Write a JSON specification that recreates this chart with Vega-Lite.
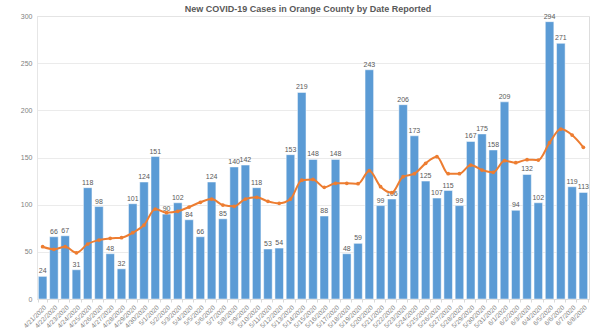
{
  "$schema": "https://vega.github.io/schema/vega-lite/v6.json",
  "width": 552,
  "height": 283,
  "autosize": {"type": "none"},
  "padding": {"left": 37, "top": 16, "right": 11, "bottom": 32},
  "background": "white",
  "title": {
    "text": "New COVID-19 Cases in Orange County by Date Reported",
    "anchor": "middle",
    "frame": "group",
    "dx": -5,
    "dy": 7,
    "offset": 5,
    "fontSize": 9,
    "fontWeight": "bold",
    "font": "Liberation Sans",
    "color": "#595959"
  },
  "data": {"values": [
    {"date": "4/21/2020", "cases": 24, "avg": 55.4},
    {"date": "4/22/2020", "cases": 66, "avg": 52.7},
    {"date": "4/23/2020", "cases": 67, "avg": 55.4},
    {"date": "4/24/2020", "cases": 31, "avg": 49},
    {"date": "4/25/2020", "cases": 118, "avg": 58.3},
    {"date": "4/26/2020", "cases": 98, "avg": 62.5},
    {"date": "4/27/2020", "cases": 48, "avg": 64.3},
    {"date": "4/28/2020", "cases": 32, "avg": 65},
    {"date": "4/29/2020", "cases": 101, "avg": 70.3},
    {"date": "4/30/2020", "cases": 124, "avg": 78.4},
    {"date": "5/1/2020", "cases": 151, "avg": 95.4},
    {"date": "5/2/2020", "cases": 90, "avg": 91.5},
    {"date": "5/3/2020", "cases": 102, "avg": 93},
    {"date": "5/4/2020", "cases": 84, "avg": 97.5},
    {"date": "5/5/2020", "cases": 66, "avg": 102.5},
    {"date": "5/6/2020", "cases": 124, "avg": 106},
    {"date": "5/7/2020", "cases": 85, "avg": 99.6},
    {"date": "5/8/2020", "cases": 140, "avg": 98.2},
    {"date": "5/9/2020", "cases": 142, "avg": 106},
    {"date": "5/10/2020", "cases": 118, "avg": 107.8},
    {"date": "5/11/2020", "cases": 53, "avg": 103.5},
    {"date": "5/12/2020", "cases": 54, "avg": 101.4},
    {"date": "5/13/2020", "cases": 153, "avg": 106},
    {"date": "5/14/2020", "cases": 219, "avg": 126},
    {"date": "5/15/2020", "cases": 148, "avg": 126.8},
    {"date": "5/16/2020", "cases": 88, "avg": 118.4},
    {"date": "5/17/2020", "cases": 148, "avg": 122.6},
    {"date": "5/18/2020", "cases": 48, "avg": 122.6},
    {"date": "5/19/2020", "cases": 59, "avg": 122.2},
    {"date": "5/20/2020", "cases": 243, "avg": 136},
    {"date": "5/21/2020", "cases": 99, "avg": 119},
    {"date": "5/22/2020", "cases": 106, "avg": 112.7},
    {"date": "5/23/2020", "cases": 206, "avg": 129.7},
    {"date": "5/24/2020", "cases": 173, "avg": 132.8},
    {"date": "5/25/2020", "cases": 125, "avg": 143.8},
    {"date": "5/26/2020", "cases": 107, "avg": 150.8},
    {"date": "5/27/2020", "cases": 115, "avg": 132.8},
    {"date": "5/28/2020", "cases": 99, "avg": 132.8},
    {"date": "5/29/2020", "cases": 167, "avg": 142},
    {"date": "5/30/2020", "cases": 175, "avg": 136.7},
    {"date": "5/31/2020", "cases": 158, "avg": 134.3},
    {"date": "6/1/2020", "cases": 209, "avg": 146.6},
    {"date": "6/2/2020", "cases": 94, "avg": 144.5},
    {"date": "6/3/2020", "cases": 132, "avg": 147.7},
    {"date": "6/4/2020", "cases": 102, "avg": 147.3},
    {"date": "6/5/2020", "cases": 294, "avg": 165.7},
    {"date": "6/6/2020", "cases": 271, "avg": 180.2},
    {"date": "6/7/2020", "cases": 119, "avg": 173.8},
    {"date": "6/8/2020", "cases": 113, "avg": 160.8}
  ]},
  "encoding": {
    "x": {
      "field": "date",
      "type": "ordinal",
      "sort": null,
      "title": null,
      "scale": {"paddingInner": 0.24, "paddingOuter": 0.12},
      "axis": {
        "labelAngle": -45,
        "labelFontSize": 6.5,
        "labelColor": "#7f7f7f",
        "labelFont": "Liberation Sans",
        "domainColor": "#d9d9d9",
        "tickColor": "#d9d9d9",
        "tickSize": 3,
        "tickBand": "extent",
        "labelPadding": 2,
        "grid": false
      }
    }
  },
  "layer": [
    {
      "mark": {"type": "bar", "color": "#5B9BD5", "stroke": "#ffffff", "strokeWidth": 0.5},
      "encoding": {
        "y": {
          "field": "cases",
          "type": "quantitative",
          "title": null,
          "scale": {"domain": [0, 300], "nice": false},
          "axis": {
            "values": [0, 50, 100, 150, 200, 250, 300],
            "labelFontSize": 7,
            "labelColor": "#7f7f7f",
            "labelFont": "Liberation Sans",
            "domain": true,
            "domainColor": "#e6e6e6",
            "ticks": false,
            "labelPadding": 5,
            "gridColor": "#e6e6e6",
            "gridWidth": 0.8
          }
        }
      }
    },
    {
      "mark": {"type": "text", "dy": -5, "fontSize": 7, "color": "#595959", "font": "Liberation Sans"},
      "encoding": {
        "y": {"field": "cases", "type": "quantitative"},
        "text": {"field": "cases", "type": "quantitative"}
      }
    },
    {
      "mark": {"type": "line", "color": "#ED7D31", "strokeWidth": 2, "interpolate": "monotone"},
      "encoding": {
        "y": {"field": "avg", "type": "quantitative"}
      }
    },
    {
      "mark": {"type": "point", "filled": true, "color": "#ED7D31", "size": 14, "opacity": 1},
      "encoding": {
        "y": {"field": "avg", "type": "quantitative"}
      }
    }
  ]
}
